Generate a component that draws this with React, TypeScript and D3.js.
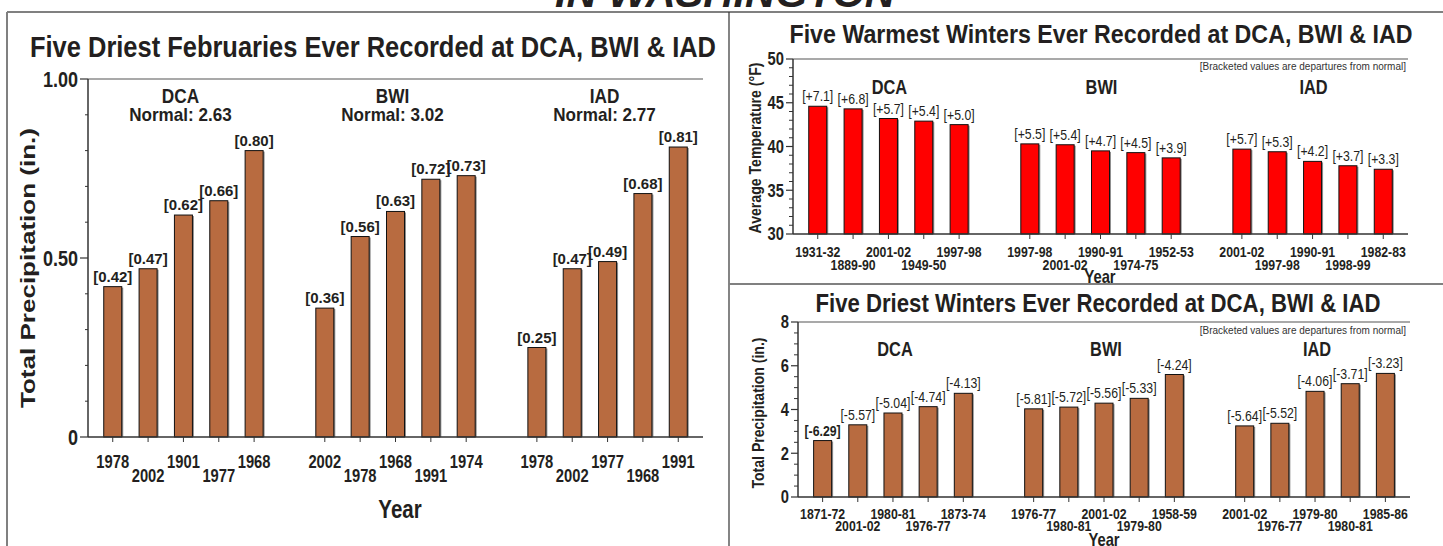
import React from 'react';
import * as d3 from 'd3';

const stations = ['DCA', 'BWI', 'IAD'];

const febYears = ['1978', '2002', '1901', '1977', '1968', '2002', '1978', '1968', '1991', '1974', '1978', '2002', '1977', '1968', '1991'];
const febValues = [0.42, 0.47, 0.62, 0.66, 0.8, 0.36, 0.56, 0.63, 0.72, 0.73, 0.25, 0.47, 0.49, 0.68, 0.81];
const febNormals = ['2.63', '3.02', '2.77'];
const febTicks = [0, 0.5, 1];

const warmYears = ['1931-32', '1889-90', '2001-02', '1949-50', '1997-98', '1997-98', '2001-02', '1990-91', '1974-75', '1952-53', '2001-02', '1997-98', '1990-91', '1998-99', '1982-83'];
const warmValues = [44.6, 44.3, 43.2, 42.9, 42.5, 40.3, 40.2, 39.5, 39.3, 38.7, 39.7, 39.4, 38.3, 37.8, 37.4];
const warmDepartures = [7.1, 6.8, 5.7, 5.4, 5.0, 5.5, 5.4, 4.7, 4.5, 3.9, 5.7, 5.3, 4.2, 3.7, 3.3];
const warmTicks = [30, 35, 40, 45, 50];

const dryYears = ['1871-72', '2001-02', '1980-81', '1976-77', '1873-74', '1976-77', '1980-81', '2001-02', '1979-80', '1958-59', '2001-02', '1976-77', '1979-80', '1980-81', '1985-86'];
const dryValues = [2.58, 3.3, 3.84, 4.13, 4.74, 4.03, 4.11, 4.29, 4.51, 5.6, 3.25, 3.37, 4.83, 5.18, 5.65];
const dryDepartures = [-6.29, -5.57, -5.04, -4.74, -4.13, -5.81, -5.72, -5.56, -5.33, -4.24, -5.64, -5.52, -4.06, -3.71, -3.23];
const dryTicks = [0, 2, 4, 6, 8];

// 5 bars per station with one empty slot between stations
const slotKeys = stations.flatMap((s, g) => [
  ...d3.range(5).map(i => `${s}${i}`),
  ...(g < stations.length - 1 ? [`gap${g}`] : []),
]);
const barKeys = stations.flatMap(s => d3.range(5).map(i => `${s}${i}`));

const ARIAL = "'Liberation Sans', Arial, Helvetica, sans-serif";
const INK = '#231f20';
const NARROW_X = 0.82; // Arial squeezed to look like Arial Narrow

const locale = d3.formatLocale({ decimal: '.', thousands: ',', grouping: [3], currency: ['', ''], minus: '-' });
const f2 = locale.format('.2f');
const fDep = locale.format('+.1f');

type NProps = {
  x: number;
  y: number;
  size: number;
  weight?: string;
  anchor?: 'start' | 'middle' | 'end';
  dy?: string;
  sx?: number;
  fill?: string;
  children: React.ReactNode;
};

// narrow text: Liberation Sans compressed horizontally
function NText({ x, y, size, weight = 'bold', anchor = 'middle', dy, sx = NARROW_X, fill = INK, children }: NProps) {
  return (
    <text
      transform={`translate(${x},${y}) scale(${sx},1)`}
      textAnchor={anchor}
      dy={dy}
      fontFamily={ARIAL}
      fontWeight={weight}
      fontSize={size}
      fill={fill}
    >
      {children}
    </text>
  );
}

type PanelProps = {
  left: number;
  right: number;
  top: number;
  bottom: number;
  domain: [number, number];
  ticks: number[];
  tickFormat: (v: number) => string;
  tickSize: number;
  minorStep: number;
  majorLen: number;
  minorLen: number;
  values: number[];
  labels: string[];
  years: string[];
  fill: string;
  valueNarrow: boolean;
  valueSize: number;
  valueWeight: (i: number) => string;
  yearSize: number;
  yearRows: [number, number];
  groupY: number;
  groupSize: number;
  groupDx: number;
  normals?: string[];
  normalY?: number;
  normalSize?: number;
  yearTitle: { x: number; y: number; size: number };
};

function BarPanel(p: PanelProps) {
  const x = d3.scalePoint<string>().domain(slotKeys).range([p.left, p.right]).padding(0.7);
  const y = d3.scaleLinear().domain(p.domain).range([p.bottom, p.top]);
  const minor = d3
    .range(p.domain[0], p.domain[1] + p.minorStep / 2, p.minorStep)
    .filter(v => !p.ticks.some(t => Math.abs(t - v) < 1e-6));
  const barW = 18;

  return (
    <g>
      {/* top frame line */}
      <line x1={p.left} x2={p.right} y1={y(p.domain[1])} y2={y(p.domain[1])} stroke="#8c8c8c" strokeWidth={1.5} />

      {barKeys.map((k, i) => {
        const cx = x(k)!;
        const yt = y(p.values[i]);
        return (
          <g key={k}>
            <rect x={cx - barW / 2 + 1.5} y={yt + 1} width={barW} height={p.bottom - yt - 1} fill="#8f8f8f" />
            <rect x={cx - barW / 2} y={yt} width={barW} height={p.bottom - yt} fill={p.fill} stroke="#111" strokeWidth={1} />
            {p.valueNarrow ? (
              <NText x={cx} y={yt - 5} size={p.valueSize} weight={p.valueWeight(i)}>
                {p.labels[i]}
              </NText>
            ) : (
              <text x={cx} y={yt - 5} textAnchor="middle" fontFamily={ARIAL} fontSize={p.valueSize}
                fontWeight={p.valueWeight(i)} fill={INK}>
                {p.labels[i]}
              </text>
            )}
            <line x1={cx} x2={cx} y1={p.bottom} y2={p.bottom + 5} stroke="#333" strokeWidth={1} />
            <NText x={cx} y={p.bottom + p.yearRows[(i % 5) % 2]} size={p.yearSize}>
              {p.years[i]}
            </NText>
          </g>
        );
      })}

      {/* axes */}
      <line x1={p.left} x2={p.right} y1={p.bottom} y2={p.bottom} stroke="#333" strokeWidth={1.5} />
      <line x1={p.left} x2={p.left} y1={p.bottom} y2={p.top} stroke="#333" strokeWidth={1.5} />
      {minor.map(v => (
        <line key={`m${v}`} x1={p.left - p.minorLen} x2={p.left} y1={y(v)} y2={y(v)} stroke="#333" strokeWidth={1} />
      ))}
      {p.ticks.map(v => (
        <g key={`t${v}`}>
          <line x1={p.left - p.majorLen} x2={p.left} y1={y(v)} y2={y(v)} stroke="#333" strokeWidth={1.2} />
          <NText x={p.left - p.majorLen - 2} y={y(v)} dy="0.36em" anchor="end" size={p.tickSize}>
            {p.tickFormat(v)}
          </NText>
        </g>
      ))}

      {/* station labels */}
      {stations.map((s, g) => (
        <g key={s}>
          <NText x={x(`${s}2`)! + p.groupDx} y={p.groupY} size={p.groupSize}>
            {s}
          </NText>
          {p.normals && (
            <NText x={x(`${s}2`)! + p.groupDx} y={p.normalY!} size={p.normalSize!} sx={0.95}>
              {`Normal: ${p.normals[g]}`}
            </NText>
          )}
        </g>
      ))}

      <NText x={p.yearTitle.x} y={p.yearTitle.y} size={p.yearTitle.size}>
        Year
      </NText>
    </g>
  );
}

export default function App() {
  return (
    <svg width={1443} height={546} style={{ position: 'absolute', left: 0, top: 0, background: '#fff' }}>
      <rect width={1443} height={546} fill="#fff" />

      <text x={725} y={7} textAnchor="middle" fontFamily={ARIAL} fontStyle="italic" fontWeight="bold"
        fontSize={40} textLength={340} lengthAdjust="spacingAndGlyphs" fill={INK}>
        IN WASHINGTON
      </text>

      {/* panel frames */}
      <line x1={7} x2={1443} y1={12} y2={12} stroke="#808080" strokeWidth={2} />
      <line x1={7} x2={7} y1={12} y2={546} stroke="#808080" strokeWidth={2} />
      <line x1={729} x2={729} y1={12} y2={546} stroke="#333" strokeWidth={1.2} />
      <line x1={729} x2={1443} y1={284} y2={284} stroke="#808080" strokeWidth={2} />

      {/* titles */}
      <text x={373} y={57} textAnchor="middle" fontFamily={ARIAL} fontWeight="bold" fontSize={29}
        textLength={686} lengthAdjust="spacingAndGlyphs" fill={INK}>
        Five Driest Februaries Ever Recorded at DCA, BWI &amp; IAD
      </text>
      <text x={1101} y={43} textAnchor="middle" fontFamily={ARIAL} fontWeight="bold" fontSize={25}
        textLength={623} lengthAdjust="spacingAndGlyphs" fill={INK}>
        Five Warmest Winters Ever Recorded at DCA, BWI &amp; IAD
      </text>
      <text x={1098} y={312} textAnchor="middle" fontFamily={ARIAL} fontWeight="bold" fontSize={25}
        textLength={565} lengthAdjust="spacingAndGlyphs" fill={INK}>
        Five Driest Winters Ever Recorded at DCA, BWI &amp; IAD
      </text>

      {/* y axis titles */}
      <text transform="translate(35,268) rotate(-90)" textAnchor="middle" fontFamily={ARIAL} fontWeight="bold"
        fontSize={21} textLength={280} lengthAdjust="spacingAndGlyphs" fill={INK}>
        Total Precipitation (in.)
      </text>
      <text transform="translate(761,148) rotate(-90)" textAnchor="middle" fontFamily={ARIAL} fontWeight="bold"
        fontSize={16} textLength={171} lengthAdjust="spacingAndGlyphs" fill={INK}>
        Average Temperature (°F)
      </text>
      <text transform="translate(764,413) rotate(-90)" textAnchor="middle" fontFamily={ARIAL} fontWeight="bold"
        fontSize={16} textLength={151} lengthAdjust="spacingAndGlyphs" fill={INK}>
        Total Precipitation (in.)
      </text>

      {/* bracket notes */}
      <text x={1406} y={70} textAnchor="end" fontFamily={ARIAL} fontSize={10} fill="#333">
        [Bracketed values are departures from normal]
      </text>
      <text x={1406} y={334} textAnchor="end" fontFamily={ARIAL} fontSize={10} fill="#333">
        [Bracketed values are departures from normal]
      </text>

      <BarPanel
        left={88}
        right={703}
        top={79}
        bottom={437}
        domain={[0, 1]}
        ticks={febTicks}
        tickFormat={v => (v === 0 ? '0' : f2(v))}
        tickSize={22}
        minorStep={0.1}
        majorLen={8}
        minorLen={3}
        values={febValues}
        labels={febValues.map(v => `[${f2(v)}]`)}
        years={febYears}
        fill="#b86b40"
        valueNarrow={false}
        valueSize={15}
        valueWeight={() => 'bold'}
        yearSize={18}
        yearRows={[31, 45]}
        groupY={103}
        groupSize={21}
        groupDx={-3}
        normals={febNormals}
        normalY={121}
        normalSize={18}
        yearTitle={{ x: 400, y: 518, size: 25 }}
      />

      <BarPanel
        left={793}
        right={1408}
        top={59}
        bottom={234}
        domain={[30, 50]}
        ticks={warmTicks}
        tickFormat={v => String(v)}
        tickSize={18}
        minorStep={1}
        majorLen={7}
        minorLen={4}
        values={warmValues}
        labels={warmDepartures.map(v => `[${fDep(v)}]`)}
        years={warmYears}
        fill="#ff0000"
        valueNarrow={true}
        valueSize={15}
        valueWeight={() => 'normal'}
        yearSize={15}
        yearRows={[23, 36]}
        groupY={94}
        groupSize={20}
        groupDx={1}
        yearTitle={{ x: 1100, y: 283, size: 18 }}
      />

      <BarPanel
        left={798}
        right={1410}
        top={322}
        bottom={497}
        domain={[0, 8]}
        ticks={dryTicks}
        tickFormat={v => String(v)}
        tickSize={18}
        minorStep={0.5}
        majorLen={7}
        minorLen={4}
        values={dryValues}
        labels={dryDepartures.map(v => `[${f2(v)}]`)}
        years={dryYears}
        fill="#b86b40"
        valueNarrow={true}
        valueSize={15}
        valueWeight={i => (i === 0 ? 'bold' : 'normal')}
        yearSize={15}
        yearRows={[22, 34]}
        groupY={356}
        groupSize={20}
        groupDx={2}
        yearTitle={{ x: 1104, y: 546, size: 18 }}
      />
    </svg>
  );
}
